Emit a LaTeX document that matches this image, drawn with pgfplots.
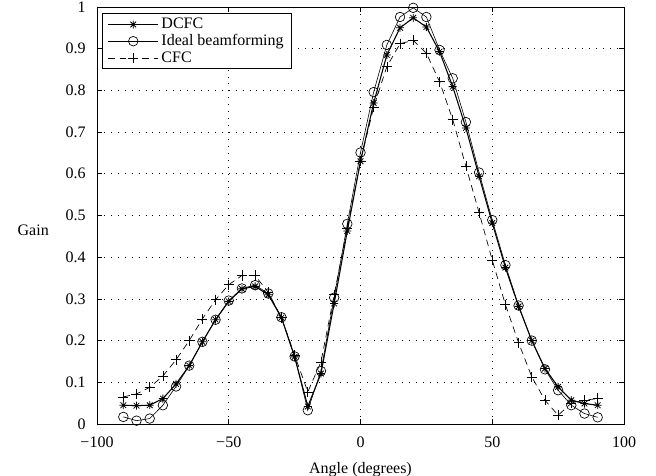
\documentclass[border=0pt]{standalone}
\usepackage{fontspec}
\setmainfont{Liberation Serif}
\usepackage{pgfplots}
\usepackage{pgfplotstable}
\pgfplotsset{compat=1.18}
\pgfdeclareplotmark{mstar}{%
 \pgfpathmoveto{\pgfqpoint{-\pgfplotmarksize}{0pt}}\pgfpathlineto{\pgfqpoint{\pgfplotmarksize}{0pt}}%
 \pgfpathmoveto{\pgfqpoint{0pt}{-\pgfplotmarksize}}\pgfpathlineto{\pgfqpoint{0pt}{\pgfplotmarksize}}%
 \pgfpathmoveto{\pgfqpoint{-0.707\pgfplotmarksize}{-0.707\pgfplotmarksize}}\pgfpathlineto{\pgfqpoint{0.707\pgfplotmarksize}{0.707\pgfplotmarksize}}%
 \pgfpathmoveto{\pgfqpoint{-0.707\pgfplotmarksize}{0.707\pgfplotmarksize}}\pgfpathlineto{\pgfqpoint{0.707\pgfplotmarksize}{-0.707\pgfplotmarksize}}%
 \pgfusepathqstroke}
\pgfplotstableread{
ang dcfc ideal cfc
-90 0.045 0.017 0.065
-85 0.044 0.008 0.072
-80 0.045 0.013 0.088
-75 0.061 0.045 0.115
-70 0.096 0.090 0.154
-65 0.140 0.140 0.200
-60 0.197 0.197 0.252
-55 0.250 0.250 0.298
-50 0.294 0.296 0.334
-45 0.324 0.325 0.356
-40 0.330 0.333 0.356
-35 0.310 0.313 0.316
-30 0.255 0.256 0.255
-25 0.161 0.162 0.165
-20 0.042 0.033 0.077
-15 0.121 0.127 0.149
-10 0.289 0.303 0.310
-5 0.463 0.480 0.470
0 0.630 0.651 0.630
5 0.770 0.796 0.760
10 0.885 0.909 0.857
15 0.950 0.976 0.912
20 0.974 0.998 0.920
25 0.952 0.976 0.889
30 0.893 0.897 0.821
35 0.809 0.829 0.730
40 0.710 0.724 0.618
45 0.594 0.603 0.507
50 0.482 0.489 0.393
55 0.375 0.381 0.286
60 0.282 0.284 0.195
65 0.200 0.200 0.113
70 0.133 0.131 0.057
75 0.089 0.081 0.021
80 0.057 0.045 0.050
85 0.049 0.025 0.057
90 0.045 0.016 0.061
}\data
\begin{document}
\begin{tikzpicture}
\begin{axis}[
  name=ax,
  scale only axis,
  width=395.25pt, height=312.75pt,
  xmin=-100, xmax=100, ymin=0, ymax=1,
  xtick={-100,-50,0,50,100},
  xticklabels={−100,−50,0,50,100},
  ytick={0,0.1,0.2,0.3,0.4,0.5,0.6,0.7,0.8,0.9,1},
  yticklabels={0,0.1,0.2,0.3,0.4,0.5,0.6,0.7,0.8,0.9,1},
  tick align=inside,
  major tick length=3.75pt,
  tick style={black, line width=0.5pt},
  axis line style={black, line width=0.6pt},
  grid=major,
  major grid style={black, line width=0.5pt, dash pattern=on 0.6pt off 4.6pt},
  tick label style={font=\fontsize{12}{14}\selectfont},
  xticklabel style={yshift=-6pt},
  yticklabel style={xshift=-5pt},
  label style={font=\fontsize{12}{14}\selectfont},
  xlabel={Angle (degrees)},
  ylabel={Gain},
  xlabel style={at={(axis description cs:0.5,0)}, anchor=north, yshift=-25pt},
  ylabel style={at={(axis description cs:-0.121,0.465)}, rotate=-90, anchor=center},
  legend style={at={(0.0095,0.985)}, anchor=north west, draw=black, line width=0.5pt,
    font=\fontsize{12}{12}\selectfont, inner xsep=4pt, inner ysep=1.5pt, row sep=-1.2pt, cells={anchor=west}},
  legend image code/.code={\draw[mark repeat=2,mark phase=2,#1] plot coordinates {(0cm,0cm) (0.66cm,0cm) (1.32cm,0cm)};},
  clip=false,
]
\addplot[black, line width=0.8pt, mark=mstar, mark size=3pt, mark options={solid, line width=0.6pt}] table[x=ang, y=dcfc] {\data};
\addlegendentry{DCFC}
\addplot[black, line width=0.45pt, mark=o, mark size=3.6pt, mark options={solid, line width=0.5pt}] table[x=ang, y=ideal] {\data};
\addlegendentry{Ideal beamforming}
\addplot[black, line width=0.5pt, dash pattern=on 5pt off 3.5pt, mark=+, mark size=3.8pt, mark options={solid, line width=0.5pt}] table[x=ang, y=cfc] {\data};
\addlegendentry{CFC}
\end{axis}
\pgfresetboundingbox
\path ([xshift=-72.75pt,yshift=-39pt]ax.south west) rectangle ([xshift=24pt,yshift=5.25pt]ax.north east);
\end{tikzpicture}
\end{document}
